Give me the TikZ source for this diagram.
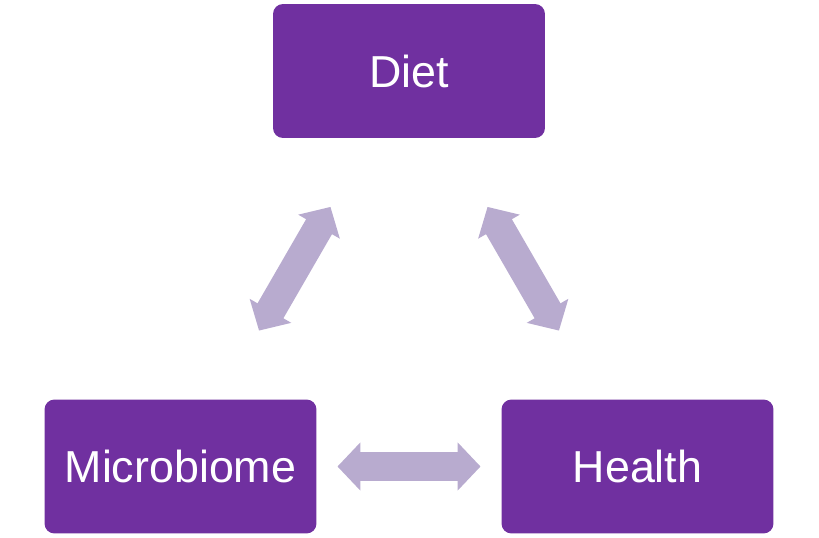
\documentclass[tikz,border=0pt]{standalone}
\usepackage{fontspec}
\setmainfont{Liberation Sans}
\usetikzlibrary{arrows.meta}
\definecolor{boxpurple}{RGB}{112,48,160}
\definecolor{arrowlilac}{RGB}{184,171,207}

\begin{document}
\begin{tikzpicture}[x=0.02cm,y=-0.02cm,
    topicbox/.style={fill=boxpurple,rounded corners=0.2cm,minimum width=5.44cm,
        minimum height=2.68cm,inner sep=0pt,text=white,
        font=\fontsize{25.5}{30}\selectfont},
    biarrow/.style={draw=arrowlilac,line width=17pt,shorten <=3.14cm,shorten >=3.14cm,
        {Triangle[width=26.6pt,length=13pt]}-{Triangle[width=26.6pt,length=13pt]}}]
    \useasboundingbox (0,0) rectangle (819,538);
    \node[topicbox] (diet) at (409,71) {Diet};
    \node[topicbox] (micro) at (180.5,466.5) {Microbiome};
    \node[topicbox] (health) at (637.5,466.5) {Health};
    \draw[biarrow] (diet.center) -- (micro.center);
    \draw[biarrow] (diet.center) -- (health.center);
    \draw[biarrow] (micro.center) -- (health.center);
\end{tikzpicture}
\end{document}
